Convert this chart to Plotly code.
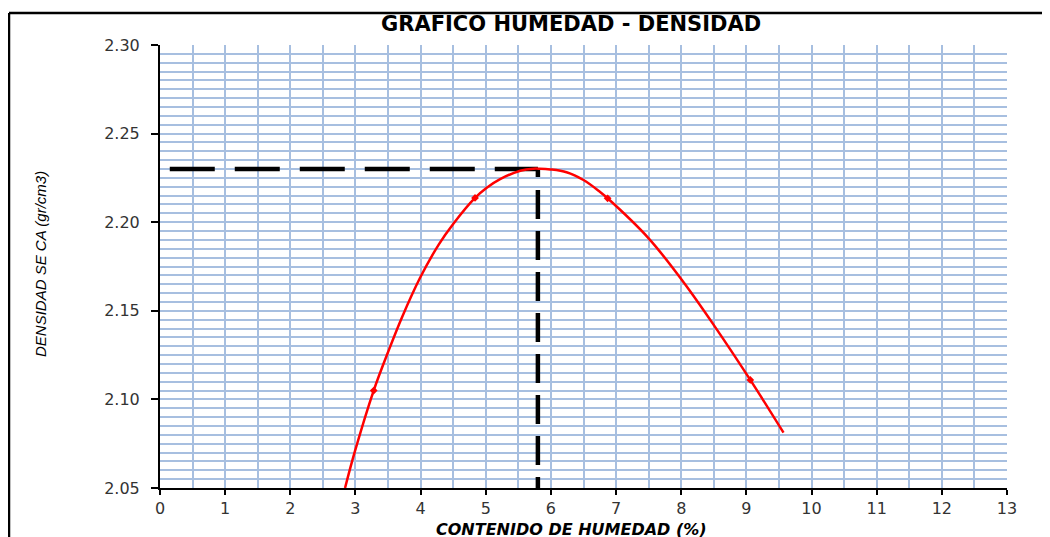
import plotly.graph_objects as go

# Curve (fitted trend)
humedad_curva = [2.84, 2.99, 3.28, 3.53, 3.71, 3.99, 4.28, 4.50, 4.835, 5.01, 5.22, 5.53,
                 5.73, 5.83, 5.99, 6.24, 6.50, 6.75, 6.87, 7.50, 8.03, 8.49, 9.06, 9.57]
densidad_curva = [2.050, 2.0705, 2.105, 2.1295, 2.1460, 2.1685, 2.1875, 2.1990, 2.2137, 2.2193,
                  2.2243, 2.2290, 2.2302, 2.2302, 2.2298, 2.2282, 2.2238, 2.2172, 2.2135,
                  2.1909, 2.1664, 2.1425, 2.111, 2.0812]

# Measured points
humedad_pts = [3.28, 4.835, 6.87, 9.06]
densidad_pts = [2.105, 2.2137, 2.2135, 2.111]

# Optimum
humedad_opt = 5.80
densidad_max = 2.23
x_inicio_linea = 0.15

x_ticks = list(range(0, 14))
y_ticks = [2.05, 2.10, 2.15, 2.20, 2.25, 2.30]
y_labels = ["2.05", "2.10", "2.15", "2.20", "2.25", "2.30"]

# plot area in figure pixels (page has an 8px body margin)
L, R, T, B = 152, 999, 37, 480
W, H = 1050, 537
PW, PH = R - L, B - T


def px_x(p):
    return (p - L) / PW


def px_y(p):
    return (B - p) / PH


fig = go.Figure()

fig.add_trace(go.Scatter(
    x=[x_inicio_linea, humedad_opt], y=[densidad_max, densidad_max],
    mode="lines", line=dict(color="black", width=4.5, dash="45px,20px"),
    hoverinfo="skip", showlegend=False))
fig.add_trace(go.Scatter(
    x=[humedad_opt, humedad_opt], y=[densidad_max, 2.05],
    mode="lines",
    line=dict(color="black", width=4.5,
              dash="8px,13px,29px,12px,29px,12px,29px,12px,29px,12px,29px,12px,29px,12px,29px,12px,40px"),
    hoverinfo="skip", showlegend=False))

fig.add_trace(go.Scatter(
    x=humedad_curva, y=densidad_curva, mode="lines",
    line=dict(color="#FF0000", width=2.5, shape="spline", smoothing=1.0),
    showlegend=False))
fig.add_trace(go.Scatter(
    x=humedad_pts, y=densidad_pts, mode="markers",
    marker=dict(color="#FF0000", size=6, symbol="diamond"),
    showlegend=False))

grid_col = "#A7BFE0"
tick_font = dict(family="DejaVu Sans", size=16, color="#333333")

fig.update_xaxes(
    range=[0, 13], tickmode="array", tickvals=x_ticks, ticktext=[str(t) for t in x_ticks],
    showgrid=True, gridcolor=grid_col, gridwidth=1.5,
    minor=dict(dtick=0.5, tick0=0, showgrid=True, gridcolor=grid_col, gridwidth=1.5),
    showline=True, linecolor="black", linewidth=2,
    ticks="outside", ticklen=5, tickcolor="black", tickwidth=1.5,
    tickfont=tick_font, zeroline=False, automargin=False, ticklabelstandoff=0)
fig.update_yaxes(
    range=[2.05, 2.30], tickmode="array", tickvals=y_ticks, ticktext=y_labels,
    showgrid=True, gridcolor=grid_col, gridwidth=1.5,
    minor=dict(dtick=0.005, tick0=2.05, showgrid=True, gridcolor=grid_col, gridwidth=1.5),
    showline=True, linecolor="black", linewidth=2,
    ticks="outside", ticklen=7, tickcolor="black", tickwidth=1.5,
    tickfont=tick_font, zeroline=False, automargin=False, ticklabelstandoff=8)

# axis titles and chart title as positioned text
fig.add_annotation(text="<b><i>CONTENIDO DE HUMEDAD (%)</i></b>", xref="paper", yref="paper",
                   x=px_x(563), y=px_y(521), xanchor="center", yanchor="middle", showarrow=False,
                   font=dict(family="DejaVu Sans", size=16, color="black"))
fig.add_annotation(text="<i>DENSIDAD SE CA (gr/cm3)</i>", xref="paper", yref="paper",
                   x=px_x(32), y=px_y(256), xanchor="center", yanchor="middle", showarrow=False,
                   textangle=-90,
                   font=dict(family="Liberation Sans", size=15, color="black"))
fig.add_annotation(text="<b>GRAFICO HUMEDAD - DENSIDAD</b>", xref="paper", yref="paper",
                   x=px_x(563), y=px_y(16), xanchor="center", yanchor="middle", showarrow=False,
                   font=dict(family="DejaVu Sans", size=21, color="black"))

# outer chart border (left and top visible)
fig.add_shape(type="line", xref="paper", yref="paper",
              x0=px_x(1), x1=px_x(1060), y0=px_y(5), y1=px_y(5),
              line=dict(color="black", width=2.5))
fig.add_shape(type="line", xref="paper", yref="paper",
              x0=px_x(1), x1=px_x(1), y0=px_y(5), y1=px_y(560),
              line=dict(color="black", width=2.5))

fig.update_layout(
    width=W, height=H,
    margin=dict(l=L, r=W - R, t=T, b=H - B, autoexpand=False),
    paper_bgcolor="white", plot_bgcolor="white",
)

fig.write_html("out.html")
